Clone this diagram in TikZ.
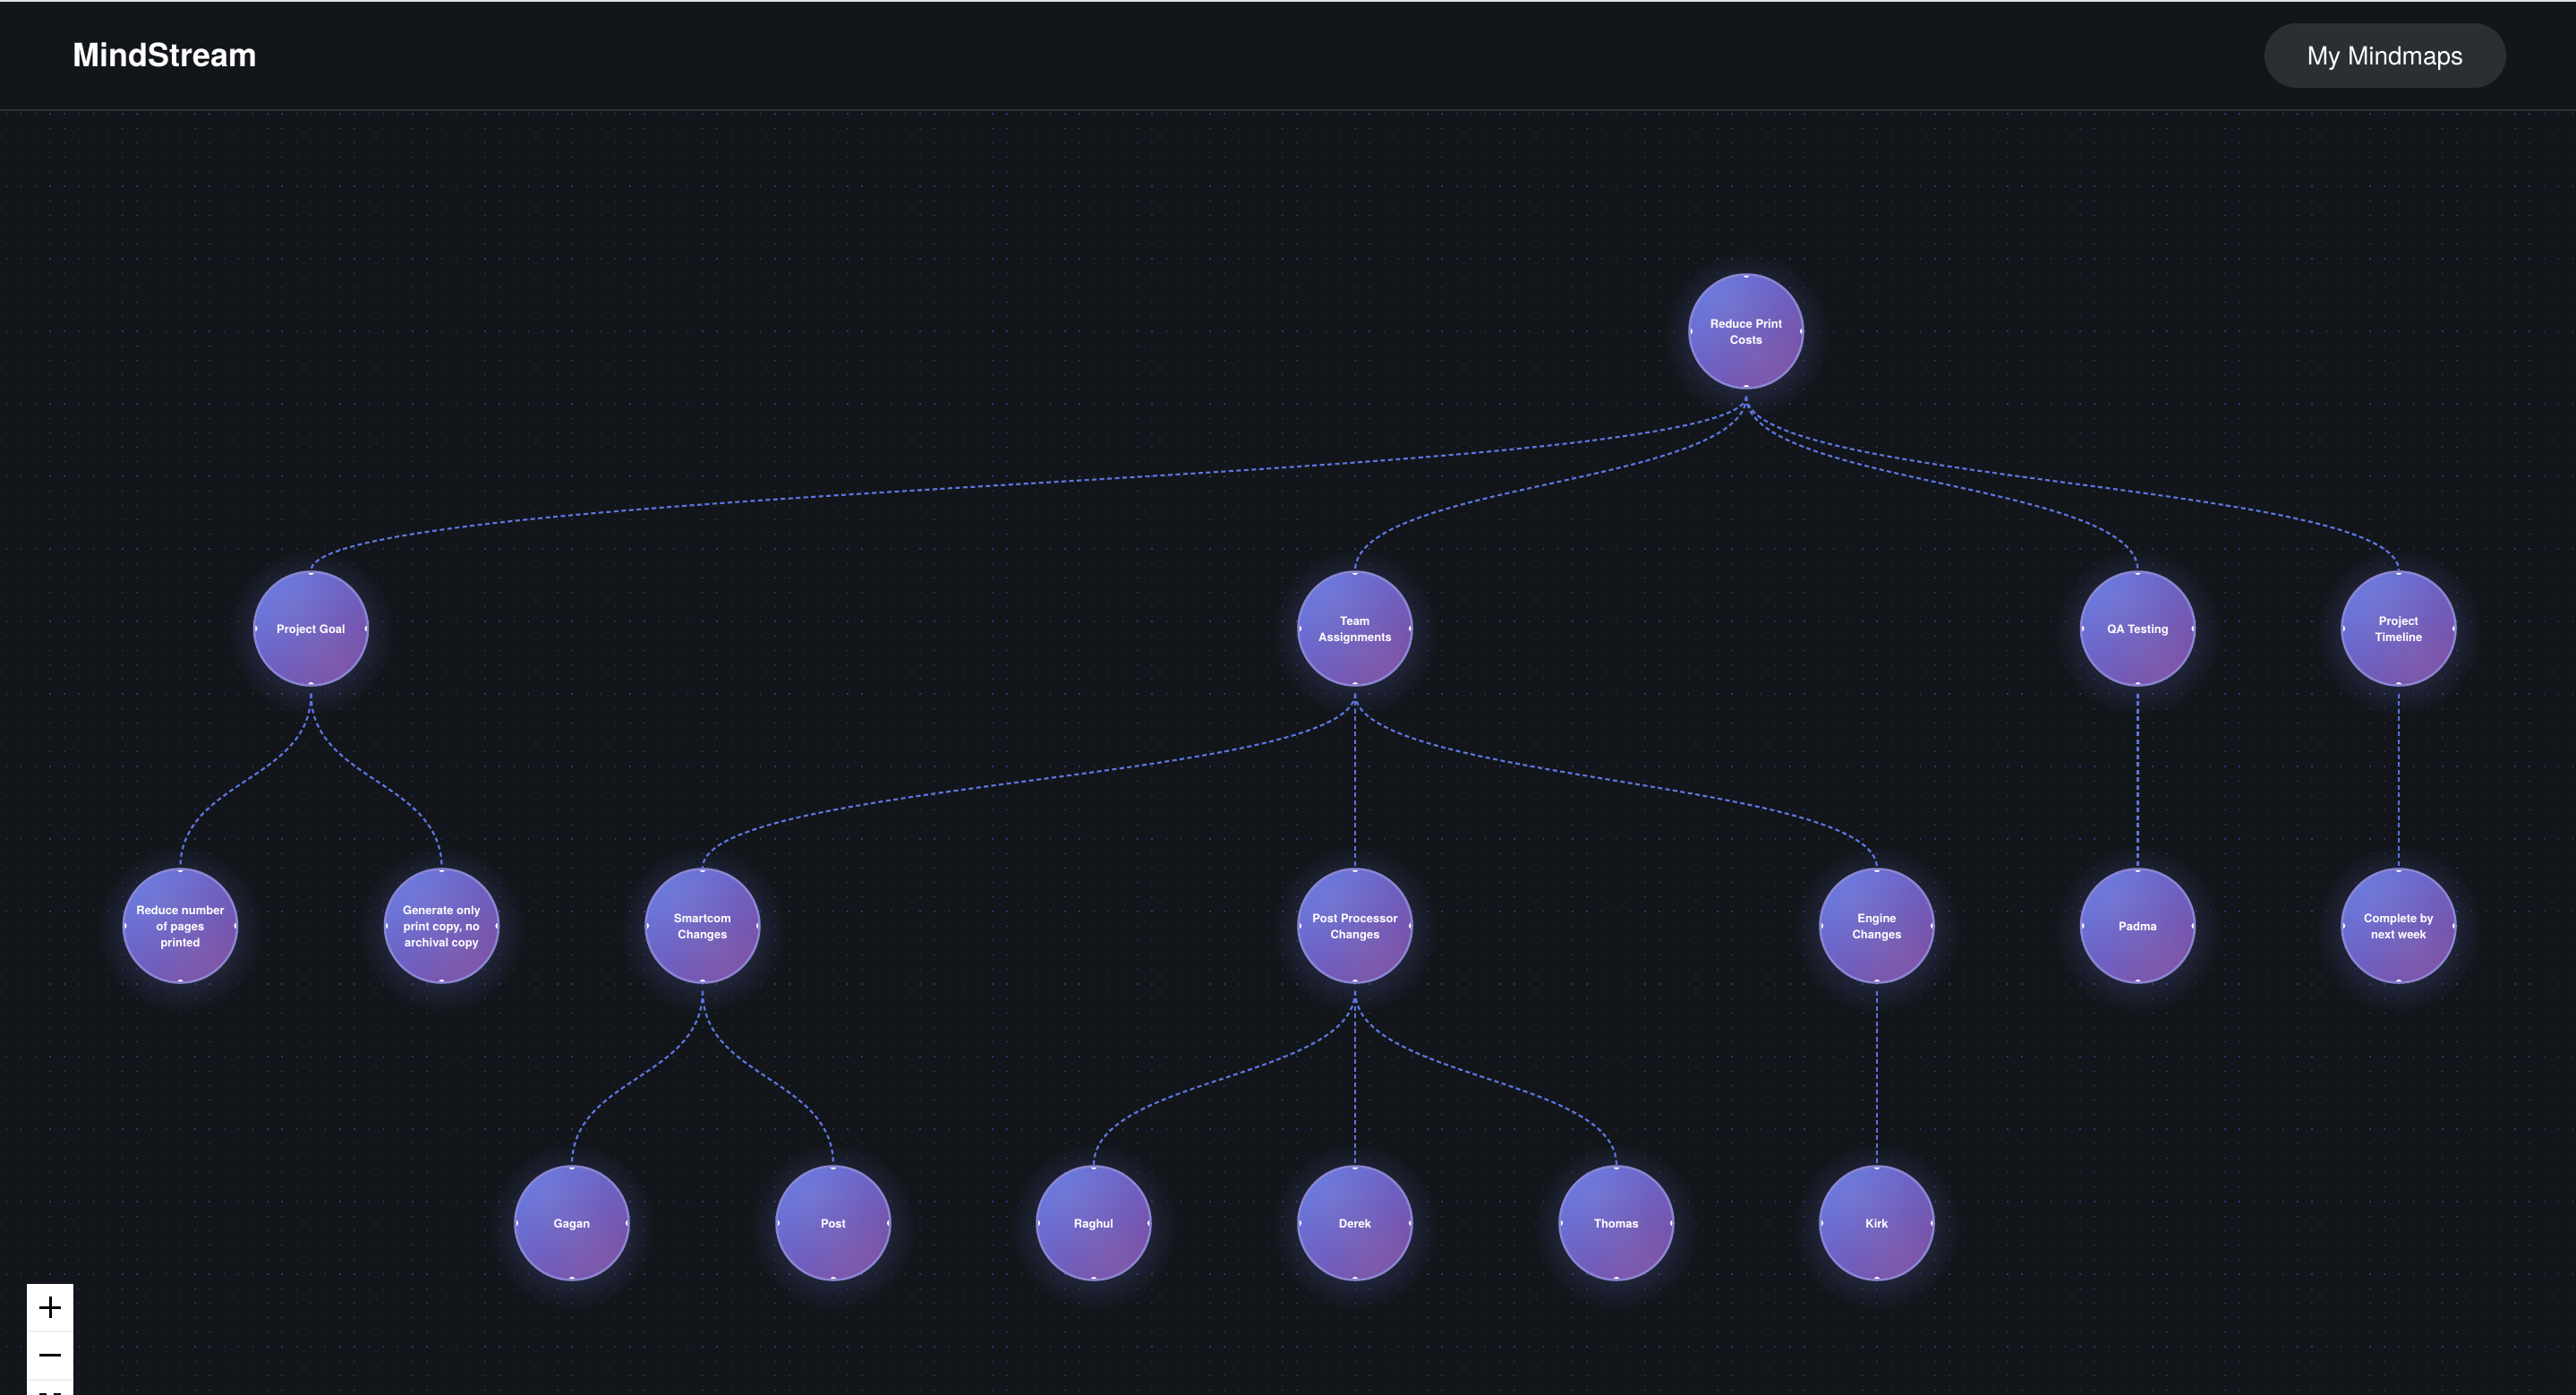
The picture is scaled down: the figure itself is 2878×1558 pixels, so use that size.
\documentclass[tikz,border=0pt]{standalone}
\usepackage{fontspec}
\setmainfont{TeX Gyre Heros}
\usetikzlibrary{calc,backgrounds,fadings}

\definecolor{pagebg}{HTML}{12161A}
\definecolor{headerline}{HTML}{2E3238}
\definecolor{griddot}{HTML}{323774}
\definecolor{pillbg}{HTML}{2B2F33}
\definecolor{linkblue}{HTML}{5F75E0}
\definecolor{nodelight}{HTML}{6472DC}
\definecolor{nodedark}{HTML}{7A50A6}
\definecolor{noderim}{HTML}{8B86D2}
\definecolor{glowblue}{HTML}{6A70E0}
\definecolor{ctrlline}{HTML}{EEEEEE}

\tikzfading[name=glowfade, inner color=transparent!55, outer color=transparent!100]

\tikzset{
  mapnode/.style={%
    circle, minimum size=127pt, inner sep=0pt, line width=2.5pt, draw=noderim,
    top color=nodelight, bottom color=nodedark, shading angle=45,
    text=white, align=center, font=\bfseries\fontsize{13}{18}\selectfont,
    text height=15pt, text depth=3.6pt,
    path picture={%
      \foreach \r in {6,12,...,60} {\fill[white, opacity=.012] ($(path picture bounding box.center)+(-24,-30)$) circle (\r pt);};
      \foreach \r in {6,12,...,42} {\fill[white, opacity=.010] ($(path picture bounding box.center)+(18,32)$) circle (\r pt);};
      \foreach \a in {north,south,east,west} {\fill[white] (path picture bounding box.\a) circle (3.6pt);};
    }
  },
  twoline/.style={mapnode, text height=33pt},
  threeline/.style={mapnode, text height=51pt},
  maplink/.style={draw=linkblue, line width=2.2pt, dash pattern=on 5pt off 3.5pt},
  griddots/.style={griddot, line width=1.3pt, dash pattern=on 1.3pt off 14.9pt}
}

\begin{document}
\begin{tikzpicture}[x=1pt,y=-1pt]
    \useasboundingbox (0,0) rectangle (2878,1558);

    \node[twoline] (root)   at (1951,370)  {Reduce Print\\Costs};

    \node[mapnode] (goal)   at (347.5,702) {Project Goal};
    \node[twoline] (team)   at (1514,702)  {Team\\Assignments};
    \node[mapnode] (qa)     at (2388.5,702) {QA Testing};
    \node[twoline] (time)   at (2680,702)  {Project\\Timeline};

    \node[threeline] (pages) at (201.5,1034) {Reduce number\\of pages\\printed};
    \node[threeline] (copy) at (493.5,1034) {Generate only\\print copy, no\\archival copy};
    \node[twoline] (smart)  at (785,1034)  {Smartcom\\Changes};
    \node[twoline] (post)   at (1514,1034) {Post Processor\\Changes};
    \node[twoline] (engine) at (2097,1034) {Engine\\Changes};
    \node[mapnode] (padma)  at (2388.5,1034) {Padma};
    \node[twoline] (week)   at (2680,1034) {Complete by\\next week};

    \node[mapnode] (gagan)  at (639,1366)  {Gagan};
    \node[mapnode] (poster) at (931,1366)  {Post};
    \node[mapnode] (raghul) at (1222,1366) {Raghul};
    \node[mapnode] (derek)  at (1514,1366) {Derek};
    \node[mapnode] (thomas) at (1806,1366) {Thomas};
    \node[mapnode] (kirk)   at (2097,1366) {Kirk};

    \foreach \p/\c in {root/goal,root/team,root/qa,root/time,
                       goal/pages,goal/copy,team/smart,team/post,team/engine,
                       qa/padma,time/week,smart/gagan,smart/poster,
                       post/raghul,post/derek,post/thomas,engine/kirk} {
      \draw[maplink] ($(\p.south)+(0,8)$) .. controls ($(\p.south)+(0,106)$) and ($(\c.north)+(0,-98)$) .. (\c.north);
    };

    % page, dot grid and node glow stay behind everything
    \begin{scope}[on background layer]
      \fill[pagebg] (0,0) rectangle (2878,1558);
      \foreach \r in {0,...,88} {\draw[griddots] (6.6,127+16.2*\r) -- (2878,127+16.2*\r);};
      \foreach \n in {root,goal,team,qa,time,pages,copy,smart,post,engine,padma,week,gagan,poster,raghul,derek,thomas,kirk} {
        \fill[glowblue, path fading=glowfade] ($(\n)+(0,4)$) circle (94pt);
      };
    \end{scope}

    % header bar
    \fill[ctrlline!95!black] (0,0) rectangle (2878,2);
    \fill[headerline] (0,122) rectangle (2878,124);
    \node[anchor=base west, inner sep=0pt, text=white, font=\bfseries\fontsize{36}{40}\selectfont] (brand) at (81,74) {MindStream};
    \node[minimum width=270pt, minimum height=72pt, inner sep=0pt, fill=pillbg, rounded corners=36pt] (pill) at (2665,62) {};
    \node[anchor=base, inner sep=0pt, text=white, font=\fontsize{28}{32}\selectfont] (pilltext) at (2665,72) {My Mindmaps};

    % zoom buttons
    \fill[white] (30,1434) rectangle (82,1558);
    \fill[ctrlline] (30,1486) rectangle (82,1488);
    \fill[ctrlline] (30,1540) rectangle (82,1542);
    \draw[black, line width=3pt] (44,1460) -- (68,1460) (56,1448) -- (56,1472);
    \draw[black, line width=3pt] (44,1513.5) -- (68,1513.5);
    \draw[black, line width=2pt] (45,1558) -- (45,1557) -- (52,1557) (60,1557) -- (67,1557) -- (67,1558);
 \end{tikzpicture}
\end{document}
